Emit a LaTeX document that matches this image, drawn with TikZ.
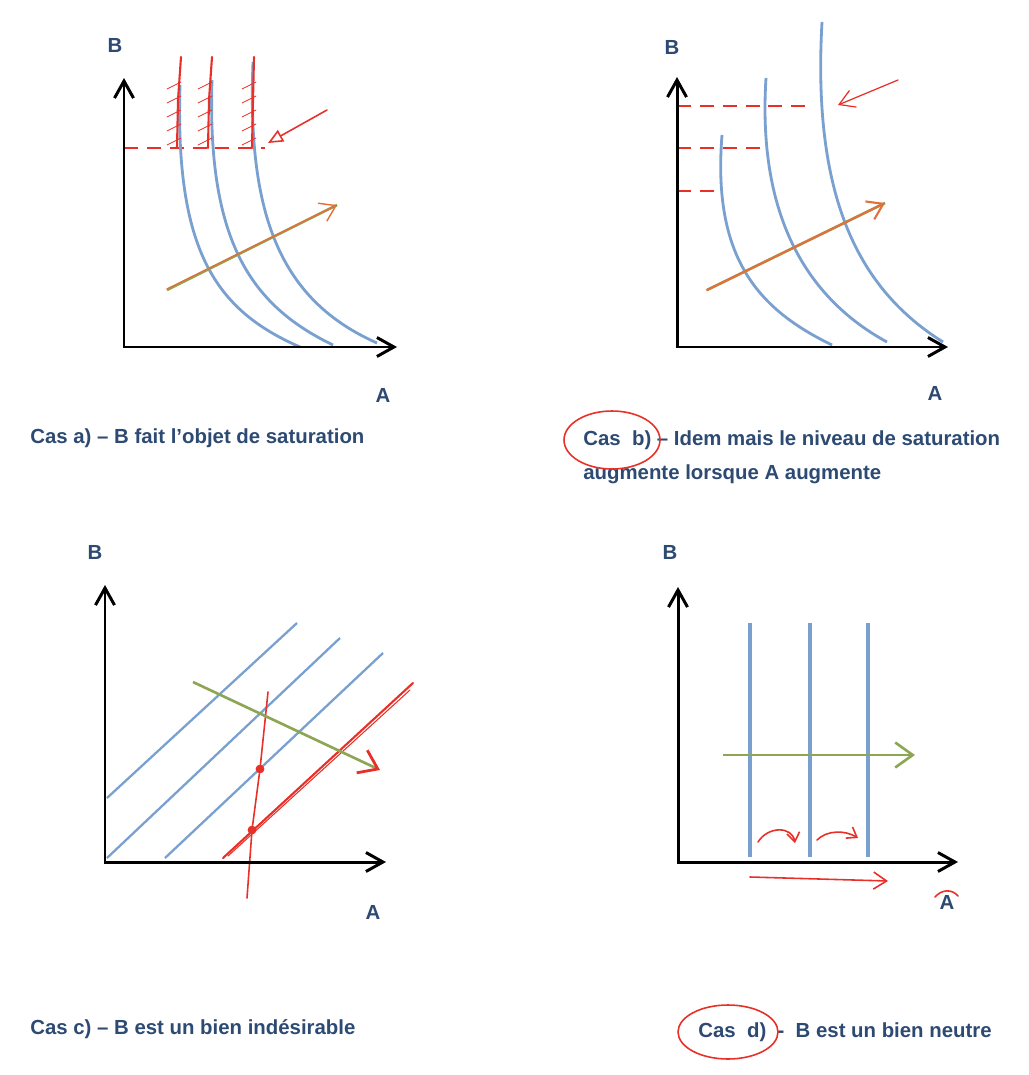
\documentclass[tikz,border=0pt]{standalone}
\usepackage{fontspec}
\setmainfont{Liberation Sans}
\usepackage{xcolor}
\usetikzlibrary{positioning,arrows.meta}
\definecolor{curveblue}{RGB}{122,160,208}
\definecolor{notered}{RGB}{232,48,40}
\definecolor{shiftgreen}{RGB}{140,166,84}
\definecolor{shiftorange}{RGB}{226,112,60}
\definecolor{captionblue}{RGB}{45,74,115}
\tikzset{
    indifaxis/.style={draw, line width=1.7pt, {Straight Barb[length=3.4mm, width=3.8mm]}-{Straight Barb[length=3.4mm, width=3.8mm]}},
    indifcurve/.style={draw=curveblue, line width=1.6pt},
    indifdash/.style={draw=notered, line width=1.1pt, dash pattern=on 8pt off 5pt},
    indifnote/.style={draw=notered, line width=0.9pt, line cap=round},
    indifshift/.style={draw=shiftgreen, line width=1.5pt},
    indiflabel/.style={font=\bfseries\fontsize{11.6}{14}\selectfont, text=captionblue, inner sep=0pt},
    indifcaption/.style={font=\bfseries\fontsize{11.6}{14}\selectfont, text=captionblue, anchor=west, inner sep=0pt},
    indifdot/.style={circle, fill=notered, minimum size=5pt, inner sep=0pt}
}

\begin{document}
\begin{tikzpicture}[x=0.02cm, y=-0.02cm]
    \fill[white] (0,0) rectangle (1028,1075);
    \useasboundingbox (0,0) rectangle (1028,1075);

    % cas a)
    \coordinate (oa) at (124,347);
    \coordinate (ya) at (124,78);
    \coordinate (xa) at (397,347);
    \node[indiflabel] (Ba) at (115,45) {B};
    \node[indiflabel] (Aa) at (383,395) {A};
    \coordinate (sa1) at (124,148);
    \coordinate (sa2) at (265,148);
    \draw[indifdash] (sa1) -- (sa2);
    \draw[indifcurve] (180,85) .. controls (175,250) and (215,310) .. (300,347);
    \draw[indifcurve] (212,80) .. controls (207,240) and (250,305) .. (333,345);
    \draw[indifcurve] (253,62) .. controls (247,215) and (280,300) .. (377,343);
    \foreach \x/\t in {177/181, 208/212, 252/254} {
        \draw[indifnote, line width=1.2pt] (\t,57) -- (\x+1,100) -- (\x,148);
        \foreach \y in {84,98,112,126,140}
            \draw[indifnote, line width=0.5pt] (\x-10,\y+5) -- (\x+4,\y-2);
    }
    \coordinate (pa1) at (327,110);
    \coordinate (pa2) at (268,143);
    \draw[indifnote, -{Triangle[open, length=3mm, width=2.6mm]}] (pa1) -- (pa2);
    \coordinate (ga1) at (167,290);
    \coordinate (ga2) at (337,205);
    \draw[indifshift] (ga1) -- (ga2);
    \draw[indifnote, draw=shiftorange, line width=0.8pt, -{Straight Barb[length=3mm, width=4mm]}] ([yshift=0.02cm]ga1) -- (ga2);
    \draw[indifaxis] (ya) -- (oa) -- (xa);

    % cas b)
    \coordinate (ob) at (677,347);
    \coordinate (yb) at (677,77);
    \coordinate (xb) at (948,347);
    \node[indiflabel] (Bb) at (672,47) {B};
    \node[indiflabel] (Ab) at (935,393) {A};
    \foreach \y/\x in {106/813, 148/762, 191/718} {
        \coordinate (sb\y) at (\x,\y);
        \draw[indifdash] (677,\y) -- (sb\y);
    }
    \draw[indifcurve] (722,135) .. controls (712,260) and (760,310) .. (832,345);
    \draw[indifcurve] (766,78) .. controls (757,220) and (810,300) .. (887,342);
    \draw[indifcurve] (822,22) .. controls (812,200) and (860,290) .. (943,342);
    \coordinate (pb1) at (898,80);
    \coordinate (pb2) at (838,105);
    \draw[indifnote, line width=0.7pt, -{Straight Barb[length=3mm, width=3.6mm]}] (pb1) -- (pb2);
    \coordinate (gb1) at (707,290);
    \coordinate (gb2) at (885,203);
    \draw[indifshift] (gb1) -- (gb2);
    \draw[indifnote, draw=shiftorange, line width=1.2pt, -{Straight Barb[length=3mm, width=4mm]}] (gb1) -- (gb2);
    \draw[indifaxis] (yb) -- (ob) -- (xb);

    % cas c)
    \coordinate (oc) at (105,862);
    \coordinate (yc) at (105,585);
    \coordinate (xc) at (386,862);
    \node[indiflabel] (Bc) at (95,552) {B};
    \node[indiflabel] (Ac) at (373,912) {A};
    \draw[indifcurve, line width=1.3pt] (107,798) -- (297,623);
    \draw[indifcurve, line width=1.3pt] (107,858) -- (340,638);
    \draw[indifcurve, line width=1.3pt] (165,858) -- (383,653);
    \draw[indifnote, line width=1.2pt] (223,858) -- (413,683);
    \draw[indifnote, line width=0.6pt] (228,856) -- (410,690);
    \node[indifdot] (dc1) at (260,769) {};
    \node[indifdot] (dc2) at (252,830) {};
    \coordinate (rc1) at (268,692);
    \coordinate (rc2) at (247,898);
    \draw[indifnote] (rc1) -- (dc1) -- (dc2) -- (rc2);
    \coordinate (gc1) at (193,682);
    \coordinate (gc2) at (380,770);
    \draw[indifshift, -{Straight Barb[color=notered, line width=1.6pt, length=3.5mm, width=5mm]}] (gc1) -- (gc2);
    \draw[indifaxis] (yc) -- (oc) -- (xc);

    % cas d)
    \coordinate (od) at (678,862);
    \coordinate (yd) at (678,587);
    \coordinate (xd) at (958,862);
    \node[indiflabel] (Bd) at (670,552) {B};
    \node[indiflabel] (Ad) at (947,902) {A};
    \foreach \x in {750,810,868}
        \draw[indifcurve, line width=1.9pt] (\x,623) -- (\x,857);
    \coordinate (gd1) at (723,755);
    \coordinate (gd2) at (915,755);
    \draw[indifshift, -{Straight Barb[length=3.5mm, width=5mm]}] (gd1) -- (gd2);
    \draw[indifnote, -{Straight Barb[length=1.8mm, width=2.6mm]}] (758,842) .. controls (768,826) and (792,826) .. (795,843);
    \draw[indifnote, -{Straight Barb[length=1.8mm, width=2.6mm]}] (817,840) .. controls (827,830) and (845,830) .. (858,838);
    \coordinate (rd1) at (750,877);
    \coordinate (rd2) at (888,881);
    \draw[indifnote, -{Straight Barb[length=2.6mm, width=3.4mm]}] (rd1) -- (rd2);
    \draw[indifnote] (935,897) .. controls (942,889) and (952,889) .. (958,896);
    \draw[indifaxis] (yd) -- (od) -- (xd);

    % legendes
    \node[indifcaption] (capa) at (30,438) {Cas a) -- B fait l'objet de saturation};
    \node[indifcaption] (capb) at (583,440) {Cas~~b) -- Idem mais le niveau de saturation};
    \node[indifcaption] (capb2) at (583,474) {augmente lorsque A augmente};
    \node[indifcaption] (capc) at (30,1029) {Cas c) -- B est un bien indésirable};
    \node[indifcaption] (capd) at (698,1032) {Cas~~d)~~-~~B est un bien neutre};
    \draw[indifnote] (612,440) ellipse [x radius=0.96cm, y radius=0.58cm];
    \draw[indifnote] (728,1032) ellipse [x radius=1cm, y radius=0.54cm];
\end{tikzpicture}
\end{document}
